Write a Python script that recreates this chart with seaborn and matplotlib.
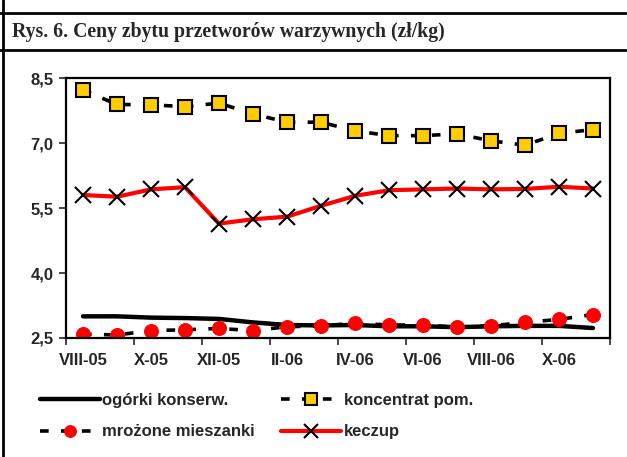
import matplotlib
matplotlib.use("Agg")
import matplotlib.pyplot as plt
from matplotlib.lines import Line2D
import seaborn as sns
import pandas as pd

months = ["VIII-05", "IX-05", "X-05", "XI-05", "XII-05", "I-06", "II-06", "III-06",
          "IV-06", "V-06", "VI-06", "VII-06", "VIII-06", "IX-06", "X-06", "XI-06"]
ogorki = [3.00, 3.00, 2.97, 2.96, 2.94, 2.86, 2.80, 2.79, 2.80, 2.77, 2.77, 2.75, 2.77, 2.78, 2.78, 2.73]
koncentrat = [8.22, 7.89, 7.88, 7.84, 7.92, 7.67, 7.48, 7.48, 7.28, 7.17, 7.17, 7.21, 7.05, 6.95, 7.22, 7.31]
mrozone = [2.59, 2.57, 2.67, 2.69, 2.72, 2.67, 2.76, 2.78, 2.84, 2.80, 2.80, 2.75, 2.78, 2.86, 2.93, 3.04]
keczup = [5.80, 5.76, 5.93, 5.98, 5.14, 5.24, 5.30, 5.55, 5.78, 5.91, 5.93, 5.95, 5.93, 5.94, 5.99, 5.95]
yticks = [2.5, 4.0, 5.5, 7.0, 8.5]
ytick_labels = ["2,5", "4,0", "5,5", "7,0", "8,5"]
title = "Rys. 6. Ceny zbytu przetworów warzywnych (zł/kg)"

df = pd.DataFrame({"x": range(len(months)), "ogorki": ogorki, "koncentrat": koncentrat,
                   "mrozone": mrozone, "keczup": keczup})

sns.set_theme(style="white")
plt.rcParams["font.family"] = ["Liberation Sans", "DejaVu Sans"]

fig = plt.figure(figsize=(6.27, 4.57), dpi=100)
ax = fig.add_axes([66 / 627, 1 - 338 / 457, (610 - 66) / 627, (338 - 78) / 457])

dash = (0, (2.4, 3.4))
sns.lineplot(data=df, x="x", y="ogorki", ax=ax, color="black", linewidth=3.2,
             label="ogórki konserw.", solid_capstyle="round")
sns.lineplot(data=df, x="x", y="mrozone", ax=ax, color="black", linewidth=2.6,
             linestyle=dash, marker="o", markersize=10,
             markerfacecolor="#FF0000", markeredgecolor="#FF0000",
             label="mrożone mieszanki")
sns.lineplot(data=df, x="x", y="koncentrat", ax=ax, color="black", linewidth=2.6,
             linestyle=dash, marker="s", markersize=9.5,
             markerfacecolor="#FFCC00", markeredgecolor="black", markeredgewidth=1.5,
             label="koncentrat pom.")
sns.lineplot(data=df, x="x", y="keczup", ax=ax, color="#FF0000", linewidth=3,
             marker="x", markersize=12, markeredgecolor="black", markeredgewidth=1.5,
             label="keczup")

ax.set_xlim(-0.5, len(months) - 0.5)
ax.set_ylim(2.5, 8.5)
ax.set_yticks(yticks)
ax.set_yticklabels(ytick_labels, fontsize=12, fontweight="bold")
ax.set_xticks([i - 0.5 for i in range(0, len(months) + 1, 2)])
ax.set_xticklabels([])
ax.set_xticks(list(range(0, len(months), 2)), minor=True)
ax.set_xticklabels(months[::2], minor=True, fontsize=12, fontweight="bold")
ax.tick_params(axis="x", which="minor", length=0, pad=11)
ax.tick_params(axis="x", which="major", length=5, width=1.2, direction="out", bottom=True)
ax.tick_params(axis="y", length=5, width=1.2, direction="out", left=True, pad=4)
ax.set_xlabel("")
ax.set_ylabel("")
for s in ax.spines.values():
    s.set_color("black")
    s.set_linewidth(1.6)

handles, labels = ax.get_legend_handles_labels()
if ax.legend_:
    ax.legend_.remove()
fig.legend(handles, labels, ncol=2, loc="upper left", bbox_to_anchor=(33 / 627, 1 - 386 / 457),
           frameon=False, prop={"size": 12, "weight": "bold"}, handlelength=3.6,
           handletextpad=0.15, columnspacing=1.6, labelspacing=1.0, borderaxespad=0,
           markerscale=0.85)

fig.text(12 / 627, 1 - 32 / 457, title, fontsize=14.2, fontweight="bold",
         family="Liberation Serif", va="center", ha="left")
fig.add_artist(Line2D([0, 1], [1 - 13 / 457] * 2, color="black", linewidth=2, transform=fig.transFigure))
fig.add_artist(Line2D([0, 1], [1 - 50 / 457] * 2, color="black", linewidth=2, transform=fig.transFigure))
fig.add_artist(Line2D([2.5 / 627] * 2, [0, 1], color="black", linewidth=2, transform=fig.transFigure))

fig.savefig("out.png", dpi=100)
